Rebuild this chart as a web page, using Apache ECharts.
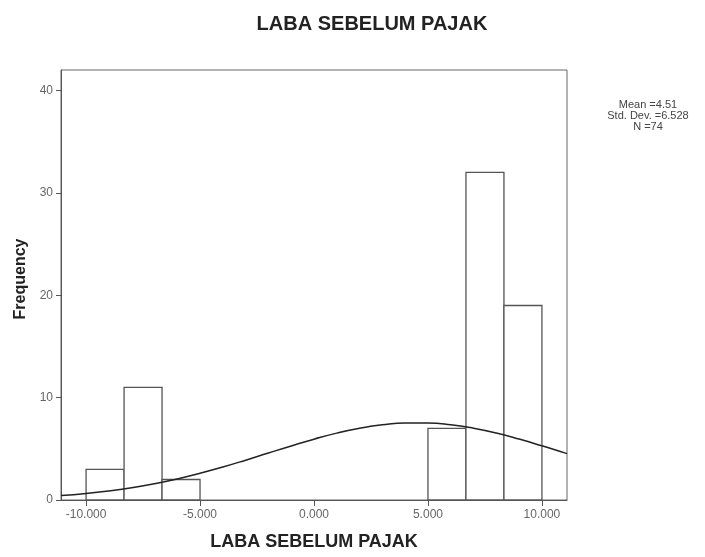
<!DOCTYPE html>
<html>
<head>
<meta charset="utf-8">
<script src="https://cdn.jsdelivr.net/npm/echarts@6/dist/echarts.min.js"></script>
<style>
  html, body { margin: 0; padding: 0; background: #fff; }
  #chart { width: 705px; height: 557px; }
</style>
</head>
<body>
<div id="chart"></div>
<script>
// histogram bins: [start, end] and counts
var binStart = [-10, -8.333, -6.667, 5, 6.667, 8.333];
var binEnd = [-8.333, -6.667, -5, 6.667, 8.333, 10];
var binCount = [3, 11, 2, 7, 32, 19];

// normal curve points
var curveX = [-11.1, -10, -9, -8, -7, -6, -5, -4, -3, -2, -1, 0, 1, 2, 3, 4, 5, 6, 7, 8, 9, 10, 11, 11.1];
var curveY = [0.43, 0.64, 0.89, 1.2, 1.59, 2.06, 2.61, 3.22, 3.89, 4.59, 5.28, 5.94, 6.53, 7.0, 7.34, 7.52, 7.52, 7.35, 7.01, 6.54, 5.95, 5.29, 4.6, 4.53];

var xTicks = [-10, -5, 0, 5, 10];
var yTicks = [0, 10, 20, 30, 40];

var chart = echarts.init(document.getElementById('chart'));

var bars = binStart.map(function (s, i) { return [s, binEnd[i], binCount[i]]; });
var curve = curveX.map(function (x, i) { return [x, curveY[i]]; });

var option = {
  backgroundColor: '#fff',
  animation: false,
  title: [{
    text: 'LABA SEBELUM PAJAK',
    left: 367,
    top: 9,
    textAlign: 'center',
    textStyle: { fontFamily: 'Liberation Sans', fontSize: 20, fontWeight: 'bold', color: '#222' }
  }, {
    text: 'Mean =4.51\nStd. Dev. =6.528\nN =74',
    left: 643,
    top: 95,
    textAlign: 'center',
    textStyle: { fontFamily: 'Liberation Sans', fontSize: 11, fontWeight: 'normal', color: '#444', lineHeight: 10.7 }
  }],
  grid: {
    left: 61, top: 70, width: 506, height: 430,
    show: true, borderColor: '#666', borderWidth: 1
  },
  xAxis: {
    type: 'value',
    min: -11.1, max: 11.1,
    name: 'LABA SEBELUM PAJAK',
    nameLocation: 'middle',
    nameGap: 33,
    nameTextStyle: { fontFamily: 'Liberation Sans', fontSize: 18, fontWeight: 'bold', color: '#222' },
    axisLine: { lineStyle: { color: '#555' } },
    axisTick: { customValues: xTicks, length: 6, lineStyle: { color: '#555' } },
    axisLabel: {
      customValues: xTicks,
      fontFamily: 'Liberation Sans', fontSize: 12, color: '#666', margin: 9,
      formatter: function (v) { return v.toFixed(3); }
    },
    splitLine: { show: false }
  },
  yAxis: {
    type: 'value',
    min: 0, max: 42,
    name: 'Frequency',
    nameLocation: 'middle',
    nameGap: 31,
    nameTextStyle: { fontFamily: 'Liberation Sans', fontSize: 16, fontWeight: 'bold', color: '#222', padding: [0, 0, 0, 12] },
    axisLine: { show: true, onZero: false, lineStyle: { color: '#555' } },
    axisTick: { show: true, customValues: yTicks, length: 5, lineStyle: { color: '#555' } },
    axisLabel: { customValues: yTicks, fontFamily: 'Liberation Sans', fontSize: 12, color: '#666', margin: 8 },
    splitLine: { show: false }
  },
  series: [{
    type: 'custom',
    data: bars,
    renderItem: function (params, api) {
      var p0 = api.coord([api.value(0), api.value(2)]);
      var p1 = api.coord([api.value(1), 0]);
      return {
        type: 'rect',
        shape: { x: p0[0], y: p0[1], width: p1[0] - p0[0], height: p1[1] - p0[1] },
        style: { fill: '#fff', stroke: '#555', lineWidth: 1.3 }
      };
    },
    z: 2
  }, {
    type: 'line',
    data: curve,
    smooth: true,
    symbol: 'none',
    lineStyle: { color: '#222', width: 1.5 },
    z: 3
  }]
};

chart.setOption(option);
</script>
</body>
</html>
